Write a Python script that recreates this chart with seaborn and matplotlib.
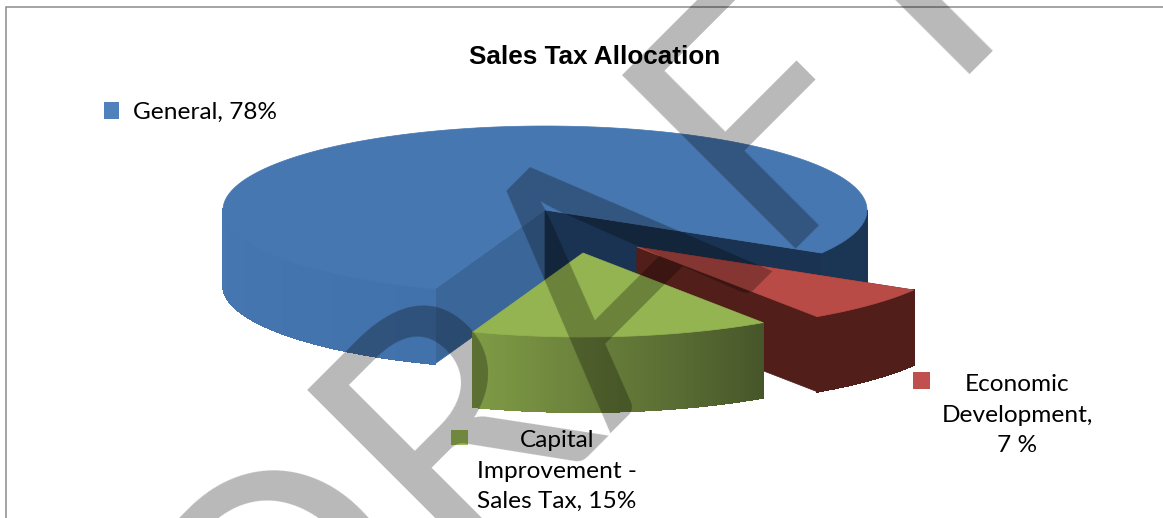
#!/usr/bin/env python
# -*- coding: utf-8 -*-
import matplotlib
matplotlib.use('Agg')
import matplotlib.pyplot as plt
from matplotlib.collections import LineCollection, PolyCollection
from matplotlib.patches import Polygon, Rectangle
import numpy as np
import seaborn as sns
###
title = 'Sales Tax Allocation'
shares = [78, 7, 15]
labels = ['General, 78%', 'Economic\nDevelopment,\n7 %', 'Capital\nImprovement -\nSales Tax, 15%']
key_colors = ['#4F81BD', '#C0504D', '#9BBB59']
top_colors = ['#4677B0', '#B94B46', '#93B451']
wall_colors = [['#4272AB', '#4677B0'], ['#511E1A', '#511E1A'], ['#7F9B45', '#47562A']]
cut_colors = [['#3B6699', '#1A3352'], ['#511E1A', '#511E1A'], [None, None]]
watermark = 'DRAFT'
###
# picture is laid out in pixels of the 1163x518 image
CX, CY = 545, 210
RX, RY = 322, 84
DEPTH = 75
START = 110
OFFSETS = [(0, 0), (92, 37), (38, 43)]
KEYS = [(104, 102, 15, 17), (913, 372, 17, 17), (451, 430, 17, 15)]
TEXTS = [(133, 112, 'left'), (1017, 415, 'center'), (557, 471, 'center')]
###
def rim(cx, cy, t):
    t = np.radians(t)
    return np.column_stack([cx + RX*np.cos(t), cy + RY*np.sin(t)])
###
def draw_walls(ax, cx, cy, t0, t1, colors, idx):
    ts = np.arange(t0, t1 + 0.5, 0.5)
    ts[-1] = t1
    pts = rim(cx, cy, ts)
    sin = np.sin(np.radians(ts))
    if idx == 0:
        left = sns.blend_palette(colors, int(180 - t0) + 1)
        pal = []
        for t in ts[:-1]:
            if t < 180:
                pal.append(left[int(t - t0)])
            elif t >= 360:
                pal.append('#1B3554')
            else:
                pal.append(colors[1])
    else:
        # light on the left of the picture, so run it against the angle
        pal = sns.blend_palette(colors, len(ts) - 1)[::-1]
    polys = []
    cols = []
    edge = []
    for i in range(len(ts) - 1):
        # back part of the rim is hidden by the top
        if sin[i] < 0:
            continue
        a, b = pts[i], pts[i + 1]
        polys.append([a, b, b + (0, DEPTH), a + (0, DEPTH)])
        edge.append([a + (0, DEPTH), b + (0, DEPTH)])
        cols.append(pal[i])
    ax.add_collection(LineCollection(edge, colors=cols, linewidths=1.0, zorder=1))
    ax.add_collection(PolyCollection(polys, facecolors=cols, edgecolors=cols, linewidths=0.8, antialiaseds=False, zorder=1))
###
def draw_slice(ax, idx, t0, t1):
    cx = CX + OFFSETS[idx][0]
    cy = CY + OFFSETS[idx][1]
    apex = np.array([cx, cy], dtype=float)
    # cut faces first
    for t, col in zip((t0, t1), cut_colors[idx]):
        if col is None:
            continue
        p = rim(cx, cy, np.array([t]))[0]
        ax.add_patch(Polygon([apex, p, p + (0, DEPTH), apex + (0, DEPTH)], fc=col, ec=col, lw=0.5))
    draw_walls(ax, cx, cy, t0, t1, wall_colors[idx], idx)
    ts = np.linspace(t0, t1, 200)
    top = np.vstack([apex, rim(cx, cy, ts)])
    ax.add_patch(Polygon(top, fc=top_colors[idx], ec=top_colors[idx], lw=0.5))
###
def main():
    sns.set_theme(style='white')
    plt.rcParams['font.family'] = ['Lato', 'DejaVu Sans']
    fig = plt.figure(figsize=(11.63, 5.18), dpi=100)
    ax = fig.add_axes([0, 0, 1, 1])
    ax.set_xlim(0, 1163)
    ax.set_ylim(518, 0)
    ax.axis('off')
    ###
    ax.plot([5.5, 5.5, 1163], [518, 7, 7], color='#8C8C8C', lw=1.1, solid_joinstyle='miter')
    ###
    angles = START + np.cumsum([0] + [s*3.6 for s in shares])
    # blue, then red, then green so the nearest slice is on top
    for idx in [0, 1, 2]:
        draw_slice(ax, idx, angles[idx], angles[idx + 1])
    ###
    for (x, y, w, h), col in zip(KEYS, key_colors):
        ax.add_patch(Rectangle((x, y), w, h, fc=col, ec='none'))
    for (x, y, ha), lab in zip(TEXTS, labels):
        ax.text(x, y, lab, ha=ha, va='center', ma='center', fontsize=17.6, linespacing=1.54, color='black')
    ax.text(595, 57, title, ha='center', va='center', fontsize=18.8, fontweight='bold',
            family=['Liberation Sans', 'DejaVu Sans'], color='black')
    ###
    ax.text(266, 746, watermark, rotation=45, rotation_mode='anchor', ha='left', va='baseline',
            fontsize=246, color='black', alpha=0.28, zorder=10, clip_on=False)
    fig.savefig('out.png', dpi=100)
###
if __name__ == '__main__':
    main()
